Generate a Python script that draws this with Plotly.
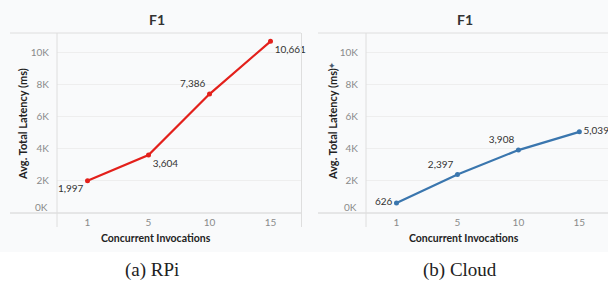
import plotly.graph_objects as go

categories = ["1", "5", "10", "15"]
rpi_latency = [1997, 3604, 7386, 10661]
cloud_latency = [626, 2397, 3908, 5039]
y_ticks = [0, 2000, 4000, 6000, 8000, 10000]
y_tick_labels = ["0K", "2K", "4K", "6K", "8K", "10K"]
panel_titles = ["F1", "F1"]
captions = ["(a) RPi", "(b) Cloud"]
x_title = "Concurrent Invocations"
y_title = "Avg. Total Latency (ms)"

W, H = 608, 286
def px(x): return x / W
def py(y): return (H - y) / H

FONT = "Lato"
TICK_C = "#8a8a8a"
TXT_C = "#333333"
LINE_C = "#dedede"

fig = go.Figure()

def fmt(v):
    return f"{v:,}"

fig.add_trace(go.Scatter(
    x=categories, y=rpi_latency, mode="lines+markers+text",
    line=dict(color="#e3201b", width=2.2), marker=dict(size=5, color="#e3201b"),
    text=[fmt(v) for v in rpi_latency],
    textposition=["bottom left", "bottom right", "top left", "bottom right"],
    textfont=dict(family=FONT, size=10, color=TXT_C),
    xaxis="x", yaxis="y", showlegend=False, cliponaxis=False))

fig.add_trace(go.Scatter(
    x=categories, y=cloud_latency, mode="lines+markers+text",
    line=dict(color="#3a76ae", width=2.2), marker=dict(size=5, color="#3a76ae"),
    text=[fmt(v) for v in cloud_latency],
    textposition=["middle left", "top left", "top left", "middle right"],
    textfont=dict(family=FONT, size=10, color=TXT_C),
    xaxis="x2", yaxis="y2", showlegend=False, cliponaxis=False))

yrange = [0, 11180]
common_x = dict(type="category", showgrid=False, zeroline=False, showline=False,
                ticks="", ticklen=0, tickfont=dict(family=FONT, size=10, color=TICK_C),
                ticklabelstandoff=2, fixedrange=True)
common_y = dict(range=yrange, tickvals=y_ticks[1:], ticktext=y_tick_labels[1:],
                showgrid=True, gridcolor="#eeeeee", gridwidth=1, zeroline=False,
                showline=False, ticks="", ticklen=0, tickfont=dict(family=FONT, size=10, color=TICK_C),
                ticklabelstandoff=7, fixedrange=True)

fig.update_layout(
    width=W, height=H, margin=dict(l=0, r=0, t=0, b=0),
    paper_bgcolor="white", plot_bgcolor="rgba(0,0,0,0)",
    xaxis=dict(domain=[px(57), px(301)], range=[-0.5, 3.5], anchor="y", **common_x),
    yaxis=dict(domain=[py(213), py(33)], anchor="x", **common_y),
    xaxis2=dict(domain=[px(366), 1.0], range=[-0.5, 3.47], anchor="y2", **common_x),
    yaxis2=dict(domain=[py(213), py(33)], anchor="x2", **common_y),
)

shapes = []
shapes.append(dict(type="rect", xref="paper", yref="paper", x0=0, x1=1, y0=py(252), y1=1,
                   fillcolor="#f9fafb", line=dict(width=0), layer="below"))
for (l, axl, r) in [(10, 57, 301), (318, 366, 608)]:
    shapes.append(dict(type="line", xref="paper", yref="paper", x0=px(l), x1=px(r),
                       y0=py(33), y1=py(33), line=dict(color=LINE_C, width=1)))
    shapes.append(dict(type="line", xref="paper", yref="paper", x0=px(l), x1=px(r),
                       y0=py(213), y1=py(213), line=dict(color="#d2d2d2", width=1)))
    shapes.append(dict(type="line", xref="paper", yref="paper", x0=px(axl), x1=px(axl),
                       y0=py(33), y1=py(227), line=dict(color=LINE_C, width=1)))
shapes.append(dict(type="line", xref="paper", yref="paper", x0=px(301.5), x1=px(301.5),
                   y0=py(33), y1=py(227), line=dict(color=LINE_C, width=1)))
fig.update_layout(shapes=shapes)

def A(text, x, y, size, color, family=FONT, **kw):
    d = dict(text=text, x=x, y=y, xref="paper", yref="paper", showarrow=False,
             xanchor="center", yanchor="middle", font=dict(family=family, size=size, color=color))
    d.update(kw)
    return d

ann = []
for i, (cx, tx) in enumerate([(157, 23), (465, 333)]):
    ann.append(A(f"<b>{panel_titles[i]}</b>", px(cx), py(20), 14, TXT_C))
    ann.append(A(f"<b>{x_title}</b>", px(cx - 1), py(238), 10.5, "#222222"))
    ann.append(A(f"<b>{y_title}</b>", px(tx), py(124), 11, "#222222", textangle=-90))
    ann.append(A(captions[i], px(cx - 5), py(270), 19, "#222222", family="Liberation Serif"))
    axy = "y" if i == 0 else "y2"
    axx = "x domain" if i == 0 else "x2 domain"
    ann.append(dict(text=y_tick_labels[0], x=0, y=y_ticks[0], xref=axx, yref=axy,
                    xanchor="right", yanchor="middle", xshift=-7, yshift=6, showarrow=False,
                    font=dict(family=FONT, size=10, color=TICK_C)))
ann.append(A("✦", px(332), py(66), 9, "#4a5a70", family="DejaVu Sans"))
fig.update_layout(annotations=ann)

fig.write_html("out.html", config={"displayModeBar": False},
               post_script="document.body.style.margin='0';document.body.style.padding='0';")
